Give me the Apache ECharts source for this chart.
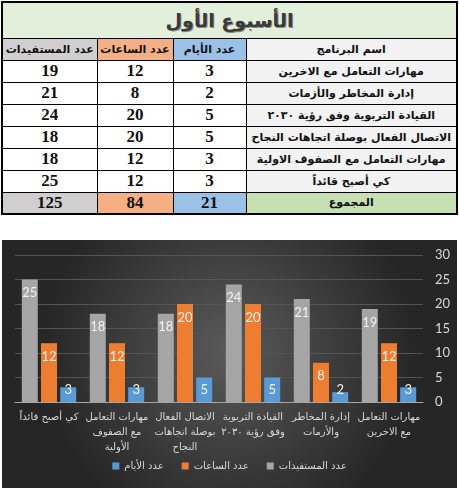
<!DOCTYPE html>
<html lang="ar">
<head>
<meta charset="utf-8">
<script src="https://cdn.jsdelivr.net/npm/echarts@6/dist/echarts.min.js"></script>
<style>
  html, body { margin: 0; padding: 0; background: #fff; width: 459px; height: 490px; overflow: hidden; }
  #sheet {
    position: absolute; left: 1px; top: 1px; width: 457px;
    border-collapse: collapse; table-layout: fixed;
    border: 2px solid #000;
    font-family: "DejaVu Sans", sans-serif; font-weight: bold; color: #111;
  }
  #sheet td { border: 1px solid #000; text-align: center; padding: 0; overflow: hidden; white-space: nowrap; }
  #sheet tr { height: 22px; }
  #sheet tr.title { height: 36px; }
  #sheet tr.title td { background: #e2efda; font-size: 19px; color: #3a3a3a; text-shadow: 1px 1px 0 #888; letter-spacing: 0.5px; }
  #sheet .name { background: #f2f2f2; font-size: 11px; letter-spacing: 0.6px; }
  #sheet .head { font-size: 11px; letter-spacing: 0.6px; }
  #sheet .num { font-family: "Liberation Serif", serif; font-size: 17px; background: #fff; }
  .c-ben { background: #d0cece !important; }
  .c-hrs { background: #f4b084 !important; }
  .c-day { background: #9bc2e6 !important; }
  .c-sum { background: #c6e0b4 !important; }
  #chart { position: absolute; left: 2px; top: 240px; width: 455px; height: 248px; }
</style>
</head>
<body>
<table id="sheet" dir="rtl">
  <colgroup><col style="width:211px"><col style="width:73px"><col style="width:76px"><col style="width:95px"></colgroup>
  <tbody id="rows"></tbody>
</table>
<div id="chart"></div>
<script>
// الأسبوع الأول
const sheetTitle = 'الأسبوع الأول';
const headers = ['اسم البرنامج', 'عدد الأيام', 'عدد الساعات', 'عدد المستفيدات'];
const programs = [
  'مهارات التعامل مع الاخرين',
  'إدارة المخاطر والأزمات',
  'القيادة التربوية وفق رؤية ٢٠٣٠',
  'الاتصال الفعال بوصلة اتجاهات النجاح',
  'مهارات التعامل مع الصفوف الاولية',
  'كي أصبح قائداً'
];
// tick labels on the chart, wrapped as in the picture
const axisLabels = [
  'مهارات التعامل\nمع الاخرين',
  'إدارة المخاطر\nوالأزمات',
  'القيادة التربوية\nوفق رؤية ٢٠٣٠',
  'الاتصال الفعال\nبوصلة اتجاهات\nالنجاح',
  'مهارات التعامل\nمع الصفوف\nالأولية',
  'كي أصبح قائداً'
];
const days = [3, 2, 5, 5, 3, 3];
const hours = [12, 8, 20, 20, 12, 12];
const beneficiaries = [19, 21, 24, 18, 18, 25];
const totalLabel = 'المجموع';
const totals = [21, 84, 125];

/** جدول البيانات */
function renderSheet() {
  const tbody = document.getElementById('rows');
  let html = `<tr class="title"><td colspan="4">${sheetTitle}</td></tr>`;
  html += `<tr>
    <td class="head name">${headers[0]}</td>
    <td class="head c-day">${headers[1]}</td>
    <td class="head c-hrs">${headers[2]}</td>
    <td class="head c-ben">${headers[3]}</td>
  </tr>`;
  html += programs.map((p, i) => `
    <tr>
      <td class="name">${p}</td>
      <td class="num">${days[i]}</td>
      <td class="num">${hours[i]}</td>
      <td class="num">${beneficiaries[i]}</td>
    </tr>`).join('');
  html += `<tr>
    <td class="name c-sum">${totalLabel}</td>
    <td class="num c-day">${totals[0]}</td>
    <td class="num c-hrs">${totals[1]}</td>
    <td class="num c-ben">${totals[2]}</td>
  </tr>`;
  tbody.innerHTML = html;
}

function barData(values) {
  // short bars keep their label near the axis, like Excel's "inside end"
  return values.map(v => ({
    value: v,
    label: v <= 5 ? { position: 'insideBottom', distance: 6 } : { position: 'insideTop', distance: 7 }
  }));
}

/** مخطط الأعمدة */
function renderChart() {
  const el = document.getElementById('chart');
  if (!el || typeof echarts === 'undefined') return;

  const label = { show: true, color: '#f2f2f2', fontSize: 13, fontFamily: 'Lato' };
  const chart = echarts.init(el);
  chart.setOption({
    backgroundColor: {
      type: 'radial', x: 0.5, y: 0.45, r: 0.75,
      colorStops: [{ offset: 0, color: '#5a5a5a' }, { offset: 1, color: '#262626' }]
    },
    textStyle: { fontFamily: 'DejaVu Sans' },
    legend: {
      data: [headers[1], headers[2], headers[3]],
      bottom: 12, icon: 'rect', itemWidth: 7, itemHeight: 7, itemGap: 18,
      textStyle: { color: '#d9d9d9', fontSize: 10 }
    },
    grid: { left: 13, right: 34, top: 15, bottom: 86 },
    xAxis: {
      type: 'category',
      inverse: true,
      data: axisLabels,
      axisLine: { lineStyle: { color: '#a6a6a6' } },
      axisTick: { show: false },
      axisLabel: { color: '#d9d9d9', fontSize: 10, lineHeight: 15, interval: 0, margin: 8 }
    },
    yAxis: {
      type: 'value',
      position: 'right',
      min: 0, max: 30, interval: 5,
      axisLabel: { color: '#d9d9d9', fontSize: 13, margin: 12, fontFamily: 'Lato' },
      splitLine: { lineStyle: { color: '#555' } }
    },
    series: [
      { name: headers[3], type: 'bar', data: barData(beneficiaries), barWidth: 16, barGap: '20%', itemStyle: { color: '#a5a5a5' }, label },
      { name: headers[2], type: 'bar', data: barData(hours), barWidth: 16, barGap: '20%', itemStyle: { color: '#ed7d31' }, label },
      { name: headers[1], type: 'bar', data: barData(days), barWidth: 16, barGap: '20%', itemStyle: { color: '#5b9bd5' }, label }
    ]
  });
}

renderSheet();
renderChart();
</script>
</body>
</html>
